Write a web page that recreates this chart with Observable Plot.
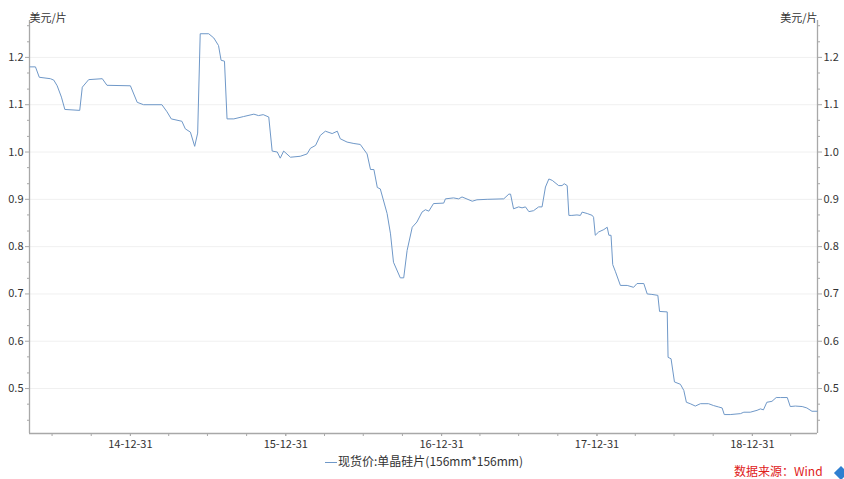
<!DOCTYPE html>
<html>
<head>
<meta charset="utf-8">
<script src="https://cdn.jsdelivr.net/npm/d3@7"></script>
<script src="https://cdn.jsdelivr.net/npm/@observablehq/plot@0.6"></script>
<style>
  html, body { margin: 0; padding: 0; background: #fff; }
  #wrap { position: relative; width: 844px; height: 479px; overflow: hidden; font-family: "Noto Sans CJK SC", "Noto Sans", sans-serif; }
  #legend { position: absolute; left: 325px; top: 452px; font-size: 12px; color: #333; white-space: nowrap; line-height: 18px; }
  #legend .sw { display: inline-block; width: 12px; height: 0; border-top: 1px solid #6f98c8; vertical-align: middle; margin-right: 1px; }
  #source { position: absolute; left: 734px; top: 464px; font-size: 12px; color: #e0201a; white-space: nowrap; line-height: 14px; }
  #logo { position: absolute; left: 836px; top: 468px; width: 10px; height: 10px; background: #2f7fd0; transform: rotate(45deg); }
</style>
</head>
<body>
<div id="wrap">
  <div id="chart"></div>
  <div id="legend"><span class="sw"></span>现货价:单晶硅片(156mm*156mm)</div>
  <div id="source">数据来源：Wind</div>
  <div id="logo"></div>
</div>
<script>
const dates = [
"2014-05-09","2014-05-22","2014-05-31","2014-06-26","2014-07-04","2014-07-12","2014-07-22","2014-07-30","2014-09-03","2014-09-09",
"2014-09-24","2014-10-26","2014-11-06","2014-12-31","2015-01-16","2015-01-31","2015-03-15","2015-03-27","2015-04-06","2015-05-01",
"2015-05-09","2015-05-21","2015-05-31","2015-06-07","2015-06-13","2015-07-03","2015-07-15","2015-07-26","2015-08-01","2015-08-09",
"2015-08-15","2015-08-31","2015-09-23","2015-10-17","2015-10-28","2015-11-08","2015-11-21","2015-11-29","2015-12-11","2015-12-18",
"2015-12-26","2016-01-11","2016-02-03","2016-02-19","2016-02-27","2016-03-10","2016-03-21","2016-04-02","2016-04-18","2016-04-30",
"2016-05-07","2016-05-23","2016-06-08","2016-06-23","2016-07-09","2016-07-17","2016-07-25","2016-08-02","2016-08-09","2016-08-25",
"2016-09-02","2016-09-09","2016-09-25","2016-10-03","2016-10-11","2016-10-23","2016-11-03","2016-11-15","2016-11-23","2016-12-01",
"2016-12-12","2017-01-05","2017-01-09","2017-01-28","2017-02-09","2017-02-17","2017-03-13","2017-03-24","2017-04-17","2017-05-26",
"2017-06-07","2017-06-11","2017-06-18","2017-06-30","2017-07-08","2017-07-16","2017-07-24","2017-08-04","2017-08-16","2017-08-24",
"2017-09-01","2017-09-09","2017-09-17","2017-10-02","2017-10-10","2017-10-15","2017-10-22","2017-10-26","2017-11-02","2017-11-14",
"2017-11-22","2017-11-26","2017-12-08","2017-12-20","2017-12-23","2017-12-27","2018-01-04","2018-01-16","2018-01-24","2018-01-28",
"2018-02-02","2018-02-06","2018-02-12","2018-02-24","2018-03-12","2018-03-27","2018-04-04","2018-04-20","2018-04-28","2018-05-09",
"2018-05-23","2018-05-27","2018-06-14","2018-06-16","2018-06-23","2018-07-01","2018-07-15","2018-07-23","2018-07-29","2018-08-07",
"2018-08-19","2018-08-31","2018-09-19","2018-10-01","2018-10-13","2018-10-21","2018-10-26","2018-11-09","2018-12-03","2018-12-11",
"2018-12-26","2019-01-11","2019-01-19","2019-01-26","2019-02-03","2019-02-15","2019-02-25","2019-03-07","2019-03-23","2019-03-30",
"2019-04-11","2019-04-27","2019-05-08","2019-05-20","2019-06-01"
];
const prices = [
1.180,1.180,1.158,1.155,1.152,1.140,1.116,1.090,1.088,1.137,
1.153,1.155,1.141,1.140,1.105,1.100,1.100,1.085,1.070,1.065,
1.049,1.042,1.012,1.040,1.250,1.250,1.241,1.225,1.194,1.192,
1.070,1.070,1.075,1.080,1.077,1.079,1.074,1.002,1.000,0.987,
1.002,0.989,0.991,0.996,1.008,1.014,1.035,1.044,1.039,1.044,
1.028,1.021,1.018,1.016,0.996,0.963,0.963,0.925,0.922,0.870,
0.827,0.767,0.734,0.734,0.792,0.841,0.852,0.873,0.878,0.875,
0.891,0.892,0.901,0.903,0.901,0.905,0.896,0.899,0.900,0.901,
0.911,0.911,0.880,0.884,0.882,0.884,0.874,0.876,0.884,0.884,
0.926,0.943,0.940,0.929,0.929,0.933,0.929,0.866,0.866,0.867,
0.866,0.873,0.870,0.866,0.862,0.824,0.831,0.836,0.841,0.824,
0.824,0.762,0.748,0.718,0.718,0.714,0.722,0.722,0.700,0.699,
0.697,0.663,0.662,0.566,0.563,0.514,0.509,0.496,0.471,0.468,
0.463,0.468,0.468,0.464,0.461,0.459,0.445,0.445,0.447,0.450,
0.450,0.454,0.457,0.455,0.471,0.473,0.481,0.481,0.481,0.462,
0.463,0.462,0.459,0.452,0.452
];
const seriesName = "现货价:单晶硅片(156mm*156mm)";
const unitLabel = "美元/片";
const yTicks = [0.5, 0.6, 0.7, 0.8, 0.9, 1.0, 1.1, 1.2];
const xLabelTicks = ["2014-12-31","2015-12-31","2016-12-31","2017-12-31","2018-12-31"];
const xQuarterTicks = ["2014-06-30","2014-09-30","2014-12-31","2015-03-31","2015-06-30","2015-09-30","2015-12-31",
"2016-03-31","2016-06-30","2016-09-30","2016-12-31","2017-03-31","2017-06-30","2017-09-30","2017-12-31",
"2018-03-31","2018-06-30","2018-09-30","2018-12-31","2019-03-31"];

const data = dates.map((d, i) => ({date: new Date(d), value: prices[i]}));
const yMin = 0.405, yMax = 1.278;
const xMin = new Date("2014-05-08"), xMax = new Date("2019-06-02");
const yMinor = [];
for (let v = 0.4; v <= 1.28; v += 0.1 / 3) {
  const r = Math.round(v * 1000) / 1000;
  if (r >= yMin && r <= yMax && !yTicks.some(t => Math.abs(t - r) < 0.005)) yMinor.push(r);
}
const axisColor = "#a8a8a8";
const textColor = "#333";
const fs = 11;

const chart = Plot.plot({
  width: 844,
  height: 479,
  marginTop: 20,
  marginBottom: 46,
  marginLeft: 29,
  marginRight: 27,
  style: {fontFamily: '"Noto Sans CJK SC", "Noto Sans", sans-serif', fontSize: fs + "px", color: textColor, background: "#fff"},
  x: {type: "utc", domain: [xMin, xMax]},
  y: {domain: [yMin, yMax]},
  marks: [
    Plot.gridY(yTicks, {stroke: "#f0f0f0", strokeOpacity: 1}),
    Plot.ruleX([xMin], {stroke: axisColor, strokeWidth: 1.3}),
    Plot.ruleX([xMax], {stroke: axisColor, strokeWidth: 1.3}),
    Plot.ruleY([yMin], {stroke: axisColor, strokeWidth: 1.3}),
    Plot.axisY(yTicks, {anchor: "left", tickSize: 4, tickPadding: 2, stroke: axisColor, fill: textColor, tickFormat: d => d.toFixed(1), label: null, fontSize: fs}),
    Plot.axisY(yMinor, {anchor: "left", tickSize: 2, stroke: axisColor, tickFormat: () => "", label: null}),
    Plot.axisY(yTicks, {anchor: "right", tickSize: 4, tickPadding: 2, stroke: axisColor, fill: textColor, tickFormat: d => d.toFixed(1), label: null, fontSize: fs}),
    Plot.axisY(yMinor, {anchor: "right", tickSize: 2, stroke: axisColor, tickFormat: () => "", label: null}),
    Plot.axisX(xQuarterTicks.map(d => new Date(d)), {anchor: "bottom", tickSize: 3, stroke: axisColor, tickFormat: () => "", label: null}),
    Plot.axisX(xLabelTicks.map(d => new Date(d)), {anchor: "bottom", tickSize: 3, tickPadding: 4, stroke: axisColor, fill: textColor, tickFormat: d3.utcFormat("%y-%m-%d"), label: null, fontSize: fs}),
    Plot.lineY(data, {x: "date", y: "value", stroke: "#6f98c8", strokeWidth: 1}),
    Plot.text([unitLabel], {frameAnchor: "top-left", dy: -6, textAnchor: "start", fill: textColor, fontSize: fs}),
    Plot.text([unitLabel], {frameAnchor: "top-right", dy: -6, textAnchor: "end", fill: textColor, fontSize: fs})
  ]
});
document.getElementById("chart").appendChild(chart);
</script>
</body>
</html>
